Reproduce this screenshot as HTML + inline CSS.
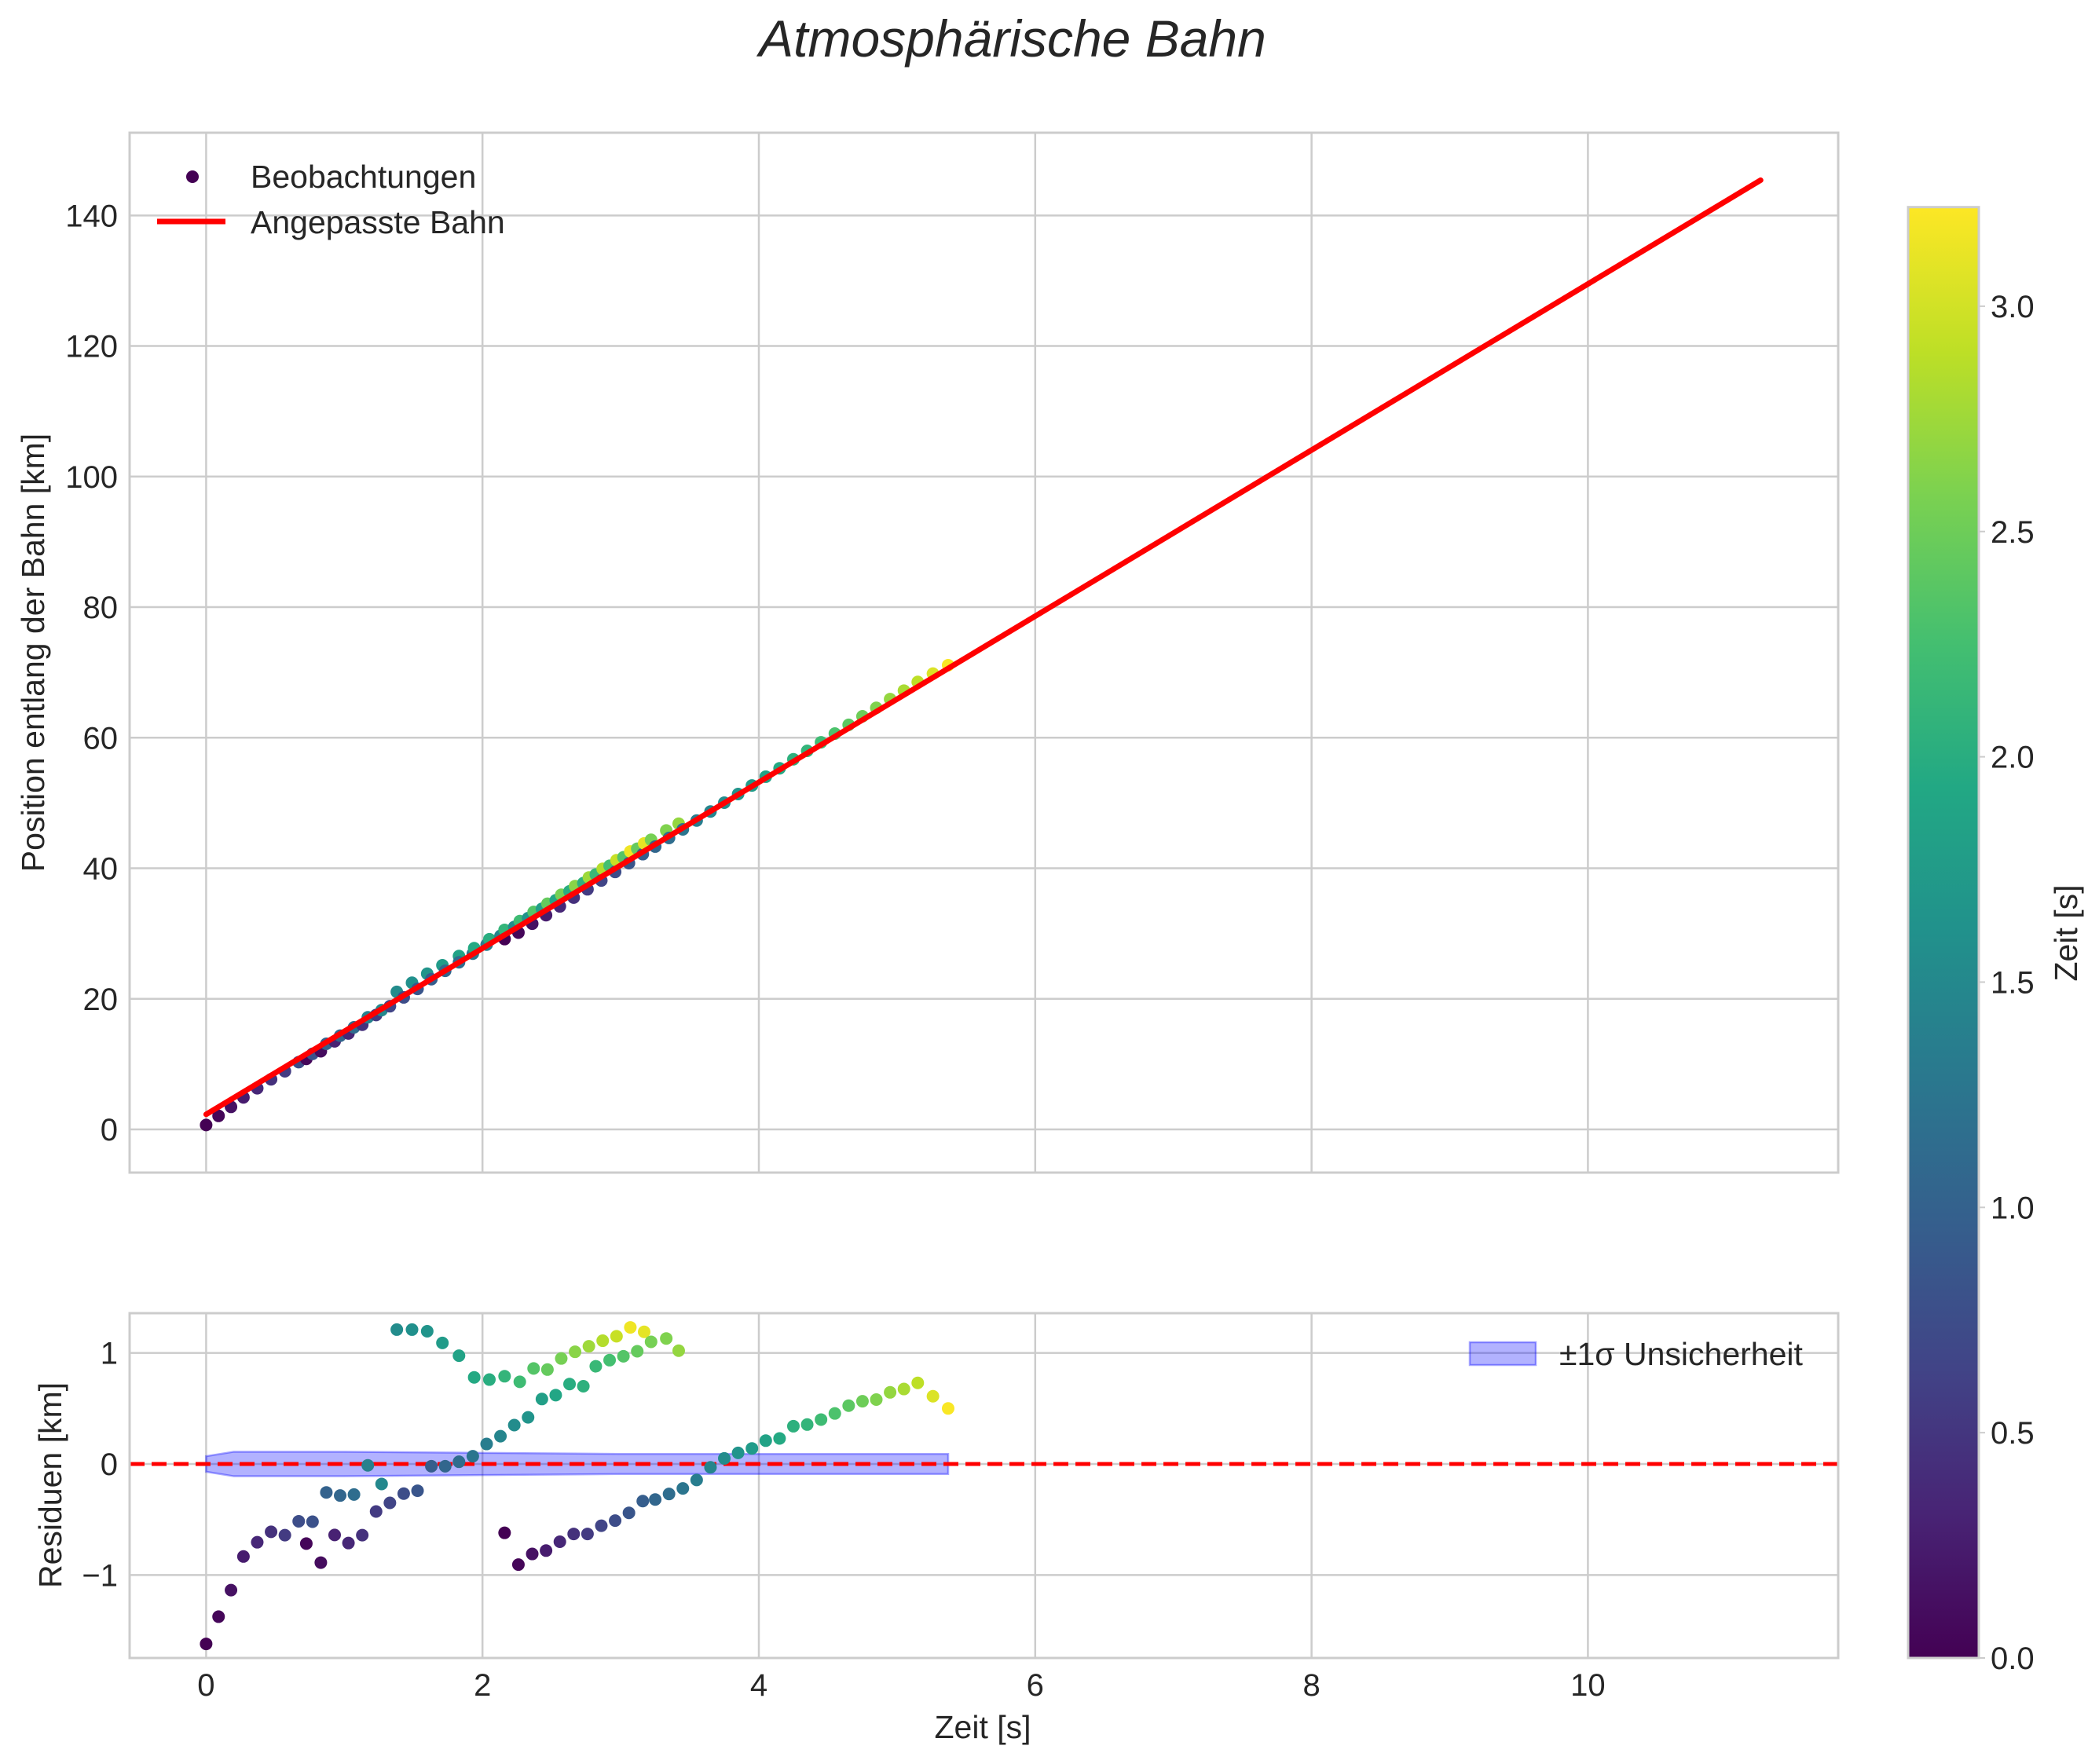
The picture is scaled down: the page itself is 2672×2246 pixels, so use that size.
<!DOCTYPE html>
<html><head><meta charset="utf-8"><style>
html,body{margin:0;padding:0;background:#fff}
svg{display:block;font-family:"Liberation Sans",sans-serif}
</style></head><body>
<svg id="chart" xmlns="http://www.w3.org/2000/svg" width="2672" height="2246" viewBox="0 0 2672 2246">
<defs>
<linearGradient id="viridis" x1="0" y1="1" x2="0" y2="0">
<stop offset="0" stop-color="#440154"/><stop offset="0.1" stop-color="#482475"/><stop offset="0.2" stop-color="#414487"/><stop offset="0.3" stop-color="#355f8d"/><stop offset="0.4" stop-color="#2a788e"/><stop offset="0.5" stop-color="#21918c"/><stop offset="0.6" stop-color="#22a884"/><stop offset="0.7" stop-color="#44bf70"/><stop offset="0.8" stop-color="#7ad151"/><stop offset="0.9" stop-color="#bddf26"/><stop offset="1" stop-color="#fde725"/>
</linearGradient>
<clipPath id="mainClip"><rect x="165" y="169" width="2175" height="1324"/></clipPath>
<clipPath id="resClip"><rect x="165" y="1672" width="2175" height="439"/></clipPath>
</defs>
<text x="1289" y="72" font-size="66" font-style="italic" fill="#262626" text-anchor="middle">Atmosphärische Bahn</text>
<g id="main"></g>
<g id="res"></g>
<g id="cbar"></g>
</svg>
<script>
const times = [0,.09,.18,.27,.37,.47,.57,.67,.725,.77,.83,.87,.93,.97,1.03,1.07,1.13,1.17,1.23,1.27,1.33,1.38,1.43,1.49,1.53,1.60,1.63,1.71,1.73,1.83,1.83,1.93,1.94,2.03,2.05,2.13,2.16,2.16,2.23,2.26,2.27,2.33,2.36,2.37,2.43,2.46,2.47,2.53,2.56,2.57,2.63,2.66,2.67,2.73,2.76,2.77,2.82,2.86,2.87,2.92,2.96,2.97,3.02,3.06,3.07,3.12,3.16,3.17,3.22,3.25,3.33,3.35,3.42,3.45,3.55,3.65,3.75,3.85,3.95,4.05,4.15,4.25,4.35,4.45,4.55,4.65,4.75,4.85,4.95,5.05,5.15,5.26,5.37];
const residuals = [-1.62,-1.375,-1.136,-.833,-.705,-.611,-.641,-.516,-.717,-.52,-.888,-.256,-.639,-.284,-.712,-.275,-.641,-.012,-.428,-.18,-.35,1.21,-.267,1.21,-.241,1.195,-.02,1.09,-.02,.975,.02,.07,.78,.18,.76,.25,.79,-.62,.35,-.906,.74,.42,-.81,.86,.585,-.78,.85,.62,-.70,.95,.72,-.63,1.01,.70,-.63,1.06,.88,-.556,1.11,.935,-.51,1.15,.97,-.44,1.23,1.015,-.334,1.19,1.10,-.32,1.13,-.27,1.02,-.22,-.144,-.03,.05,.10,.14,.21,.23,.34,.355,.40,.455,.525,.565,.58,.645,.675,.73,.61,.50];
const colorVals = [0,.05,.15,.25,.35,.45,.55,.75,.05,.8,.1,1.0,.3,1.05,.35,1.15,.45,1.4,.55,1.5,.65,1.55,.75,1.6,.85,1.65,.95,1.75,1.05,1.85,1.15,1.25,1.95,1.35,2.0,1.45,2.1,0,1.55,.05,2.2,1.65,.15,2.35,1.8,.25,2.45,1.9,.35,2.55,2.0,.45,2.65,2.05,.55,2.75,2.15,.65,2.85,2.25,.75,2.95,2.35,.85,3.15,2.45,.95,3.1,2.55,1.05,2.6,1.15,2.7,1.25,1.35,1.45,1.55,1.65,1.75,1.85,1.95,2.05,2.1,2.2,2.3,2.4,2.5,2.6,2.7,2.8,2.9,3.05,3.2];
const sigmaT = [0,0.2,1,2,3,4,5.37];
const sigmaV = [0.07,0.11,0.11,0.10,0.09,0.09,0.09];
const fitT = [0,11.25];
const fitIntercept = 2.3, fitSlope = 12.72;
const xTicks = [0,2,4,6,8,10];
const yMainTicks = [0,20,40,60,80,100,120,140];
const yResTicks = [-1,0,1];
const cbarTicks = [0,0.5,1.0,1.5,2.0,2.5,3.0];
const cMax = 3.22;

const NS="http://www.w3.org/2000/svg";
const FS=41, TFS=40;
const X = t => 262.4 + t*175.9;
const YM = v => 1438 - v*8.312;
const YR = v => 1864 - v*141.4;
const YC = v => 2111 - v*573.7;
const stops=[[68,1,84],[72,36,117],[65,68,135],[53,95,141],[42,120,142],[33,145,140],[34,168,132],[68,191,112],[122,209,81],[189,223,38],[253,231,37]];
function viridis(v){let f=Math.max(0,Math.min(1,v/cMax))*10;let i=Math.min(9,Math.floor(f));let r=f-i;const a=stops[i],b=stops[i+1];return `rgb(${a.map((c,k)=>Math.round(c+(b[k]-c)*r)).join(',')})`;}
function mk(tag,attrs,parent,text){const e=document.createElementNS(NS,tag);for(const k in attrs)e.setAttribute(k,attrs[k]);if(text!==undefined)e.textContent=text;parent.appendChild(e);return e;}
const main=document.getElementById('main'), res=document.getElementById('res'), cbar=document.getElementById('cbar');

xTicks.forEach(t=>{const l=mk('line',{x1:X(t),x2:X(t),y1:169,y2:1493,stroke:'#cccccc','stroke-width':2.5},main);

});
yMainTicks.forEach(v=>{const l=mk('line',{x1:165,x2:2340,y1:YM(v),y2:YM(v),stroke:'#cccccc','stroke-width':2.5},main);


const tx=mk('text',{x:150,y:YM(v)+14,'font-size':TFS,fill:'#262626','text-anchor':'end'},main,String(v));

});
const gm=mk('g',{'clip-path':'url(#mainClip)'},main);
times.forEach((t,i)=>{const c=mk('circle',{cx:X(t),cy:YM(fitIntercept+fitSlope*t+residuals[i]),r:8,fill:viridis(colorVals[i])},gm);

});
const fl=mk('line',{x1:X(fitT[0]),y1:YM(fitIntercept+fitSlope*fitT[0]),x2:X(fitT[1]),y2:YM(fitIntercept+fitSlope*fitT[1]),stroke:'#ff0000','stroke-width':7,'stroke-linecap':'round'},gm);


const mf=mk('rect',{x:165,y:169,width:2175,height:1324,fill:'none',stroke:'#cccccc','stroke-width':3},main);


const yl=mk('text',{x:0,y:0,transform:'translate(56,831) rotate(-90)','font-size':FS,fill:'#262626','text-anchor':'middle'},main,'Position entlang der Bahn [km]');


const lg=mk('g',{},main);


const lm=mk('circle',{cx:245,cy:225,r:8,fill:viridis(0)},lg);


const lt1=mk('text',{x:319,y:239,'font-size':FS,fill:'#262626'},lg,'Beobachtungen');


const ll=mk('line',{x1:200,x2:287,y1:282,y2:282,stroke:'#ff0000','stroke-width':7},lg);


const lt2=mk('text',{x:319,y:297,'font-size':FS,fill:'#262626'},lg,'Angepasste Bahn');



xTicks.forEach(t=>{const l=mk('line',{x1:X(t),x2:X(t),y1:1672,y2:2111,stroke:'#cccccc','stroke-width':2.5},res);


const tx=mk('text',{x:X(t),y:2159,'font-size':TFS,fill:'#262626','text-anchor':'middle'},res,String(t));

});
yResTicks.forEach(v=>{const l=mk('line',{x1:165,x2:2340,y1:YR(v),y2:YR(v),stroke:'#cccccc','stroke-width':2.5},res);


const tx=mk('text',{x:150,y:YR(v)+14,'font-size':TFS,fill:'#262626','text-anchor':'end'},res,v<0?'\u2212'+Math.abs(v):String(v));

});
const gr=mk('g',{'clip-path':'url(#resClip)'},res);
let up=sigmaT.map((t,i)=>`${X(t)},${YR(sigmaV[i])}`), dn=sigmaT.map((t,i)=>`${X(t)},${YR(-sigmaV[i])}`).reverse();
const band=mk('polygon',{points:up.concat(dn).join(' '),fill:'rgba(0,0,255,0.3)',stroke:'rgba(0,0,255,0.35)','stroke-width':2.5},gr);


const zl=mk('line',{x1:165,x2:2340,y1:YR(0),y2:YR(0),stroke:'#ff0000','stroke-width':5,'stroke-dasharray':'19,9'},gr);


times.forEach((t,i)=>{const c=mk('circle',{cx:X(t),cy:YR(residuals[i]),r:8,fill:viridis(colorVals[i])},gr);

});
const rf=mk('rect',{x:165,y:1672,width:2175,height:439,fill:'none',stroke:'#cccccc','stroke-width':3},res);


const ryl=mk('text',{x:0,y:0,transform:'translate(78,1891) rotate(-90)','font-size':FS,fill:'#262626','text-anchor':'middle'},res,'Residuen [km]');


const xl=mk('text',{x:1251,y:2213,'font-size':FS,fill:'#262626','text-anchor':'middle'},res,'Zeit [s]');


const rlp=mk('rect',{x:1871,y:1709,width:84,height:29,fill:'rgba(0,0,255,0.3)',stroke:'rgba(0,0,255,0.35)','stroke-width':2.5},res);


const rlt=mk('text',{x:1985,y:1738,'font-size':FS,fill:'#262626'},res,'\u00b11\u03c3 Unsicherheit');



const cb=mk('rect',{x:2429,y:YC(cMax),width:90,height:YC(0)-YC(cMax),fill:'url(#viridis)',stroke:'#cccccc','stroke-width':3},cbar);


cbarTicks.forEach(v=>{const tk=mk('line',{x1:2519,x2:2527,y1:YC(v),y2:YC(v),stroke:'#cccccc','stroke-width':2},cbar);


const tx=mk('text',{x:2534,y:YC(v)+14,'font-size':TFS,fill:'#262626'},cbar,v.toFixed(1));

});
const cl=mk('text',{x:0,y:0,transform:'translate(2644,1188) rotate(-90)','font-size':FS,fill:'#262626','text-anchor':'middle'},cbar,'Zeit [s]');


</script>
</body></html>
